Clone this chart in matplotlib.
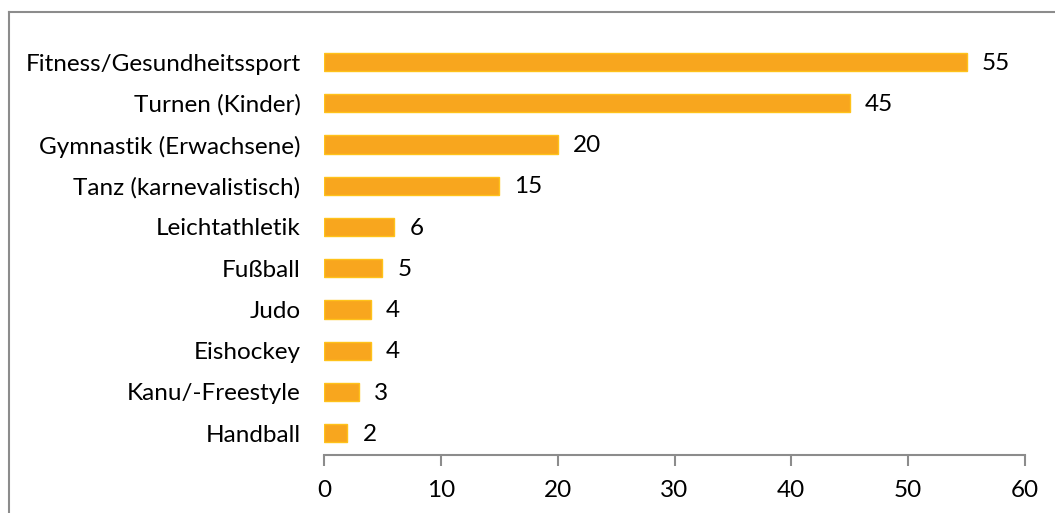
import matplotlib.pyplot as plt
from matplotlib.lines import Line2D

sports = ['Fitness/Gesundheitssport', 'Turnen (Kinder)', 'Gymnastik (Erwachsene)',
          'Tanz (karnevalistisch)', 'Leichtathletik', 'Fußball', 'Judo',
          'Eishockey', 'Kanu/-Freestyle', 'Handball']
counts = [55, 45, 20, 15, 6, 5, 4, 4, 3, 2]
xticks = [0, 10, 20, 30, 40, 50, 60]

plt.rcParams['font.family'] = ['Lato', 'DejaVu Sans']
fs = 17.5

fig = plt.figure(figsize=(10.55, 5.13), dpi=100)
ax = fig.add_axes([324/1055, 1 - 455/513, 701/1055, (455 - 41.4)/513])

y = list(range(len(sports)))
ax.barh(y, counts, height=0.44, color='#F8A61E', edgecolor='#FFC21A', linewidth=1)

# value labels next to each bar
for yi, v in zip(y, counts):
    ax.text(v + 1.3, yi + 0.03, str(v), va='center', ha='left', fontsize=fs, color='black')

ax.set_xlim(0, 60)
ax.set_ylim(len(sports) - 0.47, -0.5)
ax.set_xticks(xticks)
ax.set_yticks(y)
ax.set_yticklabels(sports)

for s in ['top', 'right', 'left']:
    ax.spines[s].set_visible(False)
ax.spines['bottom'].set_color('#8c8c8c')
ax.spines['bottom'].set_linewidth(1.5)
ax.tick_params(axis='x', direction='out', length=8, width=1.5, color='#8c8c8c',
               labelsize=fs, pad=10)
ax.tick_params(axis='y', length=0, labelsize=fs, pad=17)

# outer frame (left and top edges visible)
fig.add_artist(Line2D([9/1055, 9/1055], [0, 1 - 12/513], color='#8c8c8c', lw=1.5))
fig.add_artist(Line2D([9/1055, 1], [1 - 12/513, 1 - 12/513], color='#8c8c8c', lw=1.5))

fig.savefig('out.png', dpi=100)
